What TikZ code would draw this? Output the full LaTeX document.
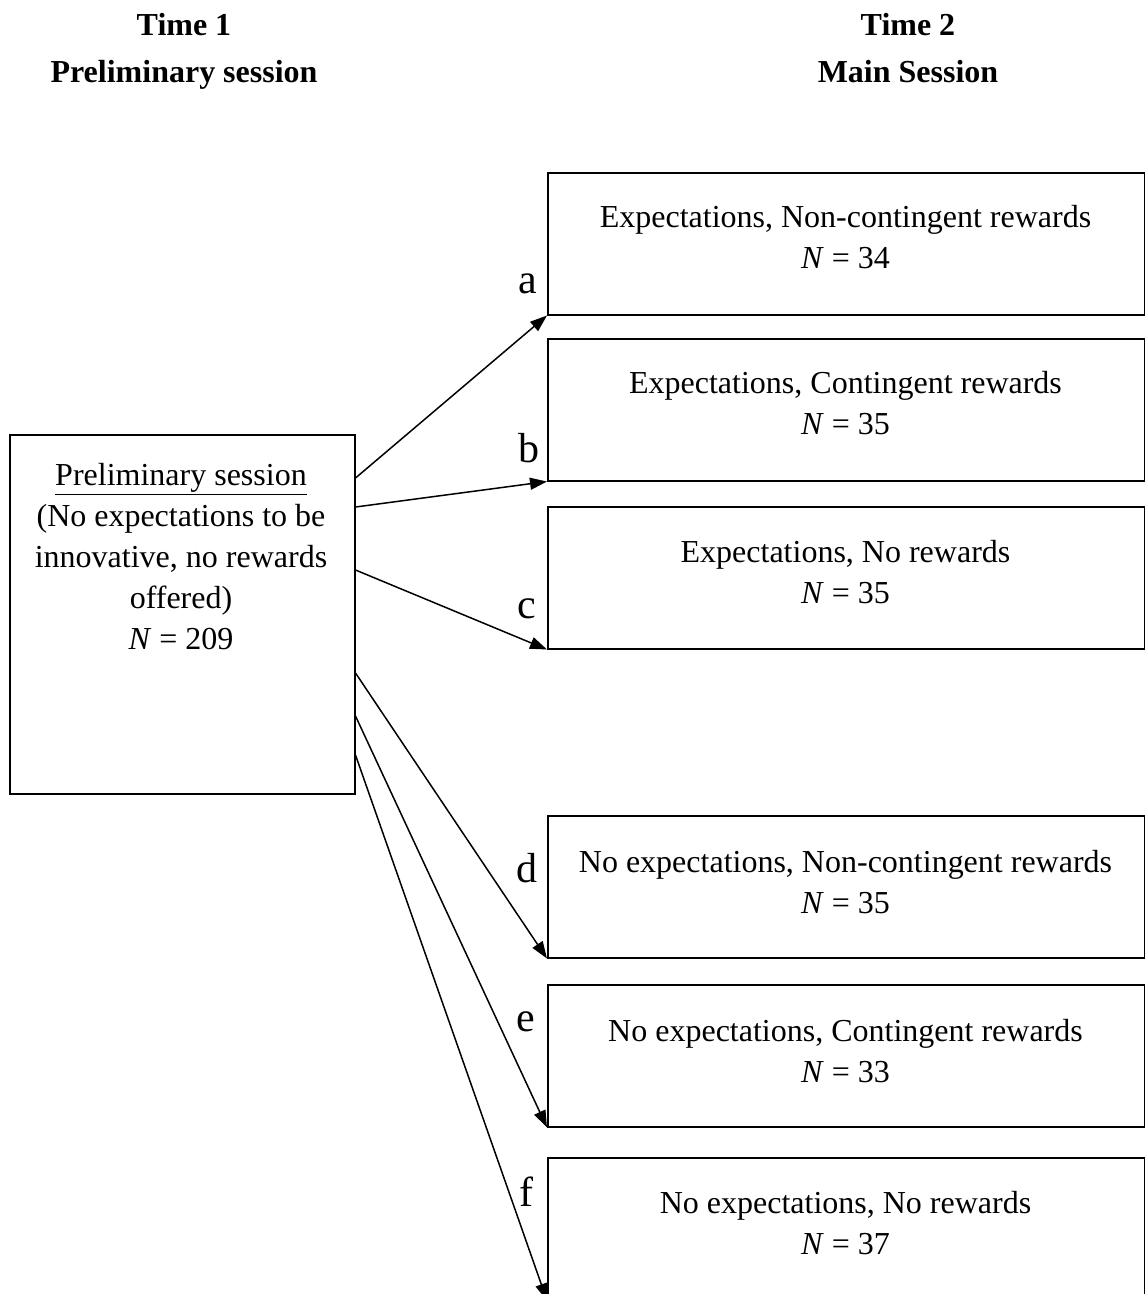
\documentclass[tikz,border=0pt]{standalone}
\usepackage{fontspec}
\setmainfont{Liberation Serif}
\usetikzlibrary{arrows.meta,calc}
\begin{document}
\begin{tikzpicture}[x=1pt,y=-1pt,
  box/.style={draw,line width=1.5pt,rectangle,inner sep=0pt,anchor=north west,
    minimum width=597pt,minimum height=142pt},
  txt/.style={font=\fontsize{32}{41}\selectfont,align=center,inner sep=0pt},
  lab/.style={font=\fontsize{42}{46}\selectfont,inner sep=0pt},
  head/.style={font=\fontsize{32}{47}\selectfont\bfseries,align=center,inner sep=0pt},
  conn/.style={line width=1.5pt,-{Triangle[length=17pt,width=12pt]}}]
\useasboundingbox (0,0) rectangle (1145,1294);
\clip (0,0) rectangle (1145,1294);

% headings
\node[head] (h1) at (184,51) {Time 1\\Preliminary session};
\node[head] (h2) at (908,48) {Time 2\\Main Session};

% left box
\node[draw,line width=1.5pt,rectangle,inner sep=0pt,anchor=north west,
  minimum width=345pt,minimum height=359pt] (L) at (9,434) {};
\node[txt] (Lt) at (181,557) {\underline{Preliminary session}\\(No expectations to be\\innovative, no rewards\\offered)\\\textit{N} = 209};

% right boxes
\node[box] (A) at (547,172) {};
\node[box] (B) at (547,338) {};
\node[box] (C) at (547,506) {};
\node[box] (D) at (547,815) {};
\node[box] (E) at (547,984) {};
\node[box] (F) at (547,1157) {};

\node[txt] (At) at (845.5,237) {Expectations, Non-contingent rewards\\\textit{N} = 34};
\node[txt] (Bt) at (845.5,403) {Expectations, Contingent rewards\\\textit{N} = 35};
\node[txt] (Ct) at (845.5,572) {Expectations, No rewards\\\textit{N} = 35};
\node[txt] (Dt) at (845.5,882) {No expectations, Non-contingent rewards\\\textit{N} = 35};
\node[txt] (Et) at (845.5,1051) {No expectations, Contingent rewards\\\textit{N} = 33};
\node[txt] (Ft) at (845.5,1223) {No expectations, No rewards\\\textit{N} = 37};

% start points on the left box
\coordinate (sa) at ($(L.north east)+(0,44)$);
\coordinate (sb) at ($(L.north east)+(0,73)$);
\coordinate (sc) at ($(L.north east)+(0,136)$);
\coordinate (sd) at ($(L.north east)+(0,239)$);
\coordinate (se) at ($(L.north east)+(0,282)$);
\coordinate (sf) at ($(L.north east)+(0,321)$);

\draw[conn] (sa) -- (A.south west);
\draw[conn] (sb) -- (B.south west);
\draw[conn] (sc) -- (C.south west);
\draw[conn] (sd) -- (D.south west);
\draw[conn] (se) -- (E.south west);
\draw[conn] (sf) -- (F.south west);

% labels
\node[lab] (la) at (528,284) {a};
\node[lab] (lb) at (529,448) {b};
\node[lab] (lc) at (527,609) {c};
\node[lab] (ld) at (527,868) {d};
\node[lab] (le) at (526,1022) {e};
\node[lab] (lf) at (526,1192) {f};
\end{tikzpicture}
\end{document}
